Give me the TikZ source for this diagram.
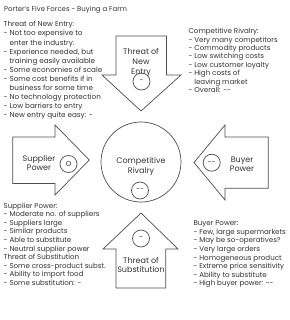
\documentclass[tikz,border=0pt]{standalone}
\usepackage{fontspec}
\setmainfont{Poppins}
\definecolor{lineC}{HTML}{4D4D4D}
\definecolor{textC}{HTML}{333333}
\tikzset{
  force/.style={draw=lineC, line width=0.7pt, fill=white},
  score/.style={draw=lineC, line width=0.7pt, circle, minimum size=17pt, inner sep=0pt, font=\fontsize{7}{7}\selectfont, text=textC},
  lbl/.style={align=center, inner sep=0pt, font=\fontsize{8}{9.6}\selectfont, text=textC},
  block/.style={align=left, inner sep=0pt, anchor=north west, text=textC},
}
\begin{document}
\begin{tikzpicture}[x=1pt,y=-1pt]
\useasboundingbox (0,0) rectangle (289,320);
% title
\node[anchor=base west, inner sep=0pt, text=textC, font=\fontsize{6.95}{9}\selectfont] (title) at (4,11.6) {Porter's Five Forces - Buying a Farm};
% text blocks
\node[block, font=\fontsize{7.2}{9.1}\selectfont] (tneText) at (3.5,21.2) {Threat of New Entry:\\
- Not too expensive to\\
\phantom{- }enter the industry.\\
- Experience needed, but\\
\phantom{- }training easily available\\
- Some economies of scale\\
- Some cost benefits if in\\
\phantom{- }business for some time\\
- No technology protection\\
- Low barriers to entry\\
- New entry quite easy: -};
\node[block, font=\fontsize{7.1}{8.45}\selectfont] (crText) at (188.3,28) {Competitive Rivalry:\\
- Very many competitors\\
- Commodity products\\
- Low switching costs\\
- Low customer loyalty\\
- High costs of\\
\phantom{- }leaving market\\
- Overall: -{}-};
\node[block, font=\fontsize{7.1}{8.6}\selectfont] (spText) at (3.5,202.5) {Supplier Power:\\
- Moderate no. of suppliers\\
- Suppliers large\\
- Similar products\\
- Able to substitute\\
- Neutral supplier power\\
Threat of Substitution\\
- Some cross-product subst.\\
- Ability to import food\\
- Some substitution: -};
\node[block, font=\fontsize{7.1}{8.6}\selectfont] (bpText) at (193.3,220.5) {Buyer Power:\\
- Few, large supermarkets\\
- May be so-operatives?\\
- Very large orders\\
- Homogeneous product\\
- Extreme price sensitivity\\
- Ability to substitute\\
- High buyer power: -{}-};
% top arrow: threat of new entry
\draw[force] (116,36) -- (166.5,36) -- (166.5,75) -- (181,75) -- (141,111) -- (102,75) -- (116,75) -- cycle;
\node[lbl] (tne) at (141,62.5) {Threat of\\New\\Entry};
\node[score] (tneS) at (141.5,81.5) {-};
% bottom arrow: threat of substitution
\draw[force] (141,213) -- (178,249) -- (165.7,249) -- (165.7,288) -- (116,288) -- (116,249) -- (103,249) -- cycle;
\node[lbl] (ts) at (141,265) {Threat of\\Substitution};
\node[score] (tsS) at (141,238.5) {-};
% left arrow: supplier power
\draw[force] (12.7,137) -- (55,137) -- (55,125) -- (89.3,160) -- (55,195) -- (55,183.5) -- (12.7,183.5) -- cycle;
\node[lbl] (sp) at (39,163) {Supplier\\Power};
\node[score] (spS) at (68.5,164) {O};
% right arrow: buyer power
\draw[force] (194,162.5) -- (225,125) -- (225,137) -- (268.3,137) -- (268.3,188.3) -- (225,188.3) -- (225,200) -- cycle;
\node[lbl] (bp) at (242,164.3) {Buyer\\Power};
\node[score] (bpS) at (211.7,162.7) {-{}-};
% centre
\node[draw=lineC, line width=0.7pt, circle, minimum size=80pt, inner sep=0pt] (cr) at (141,162) {};
\node[lbl] (crL) at (141,166.3) {Competitive\\Rivalry};
\node[score] (crS) at (140,190.5) {-{}-};
\end{tikzpicture}
\end{document}
